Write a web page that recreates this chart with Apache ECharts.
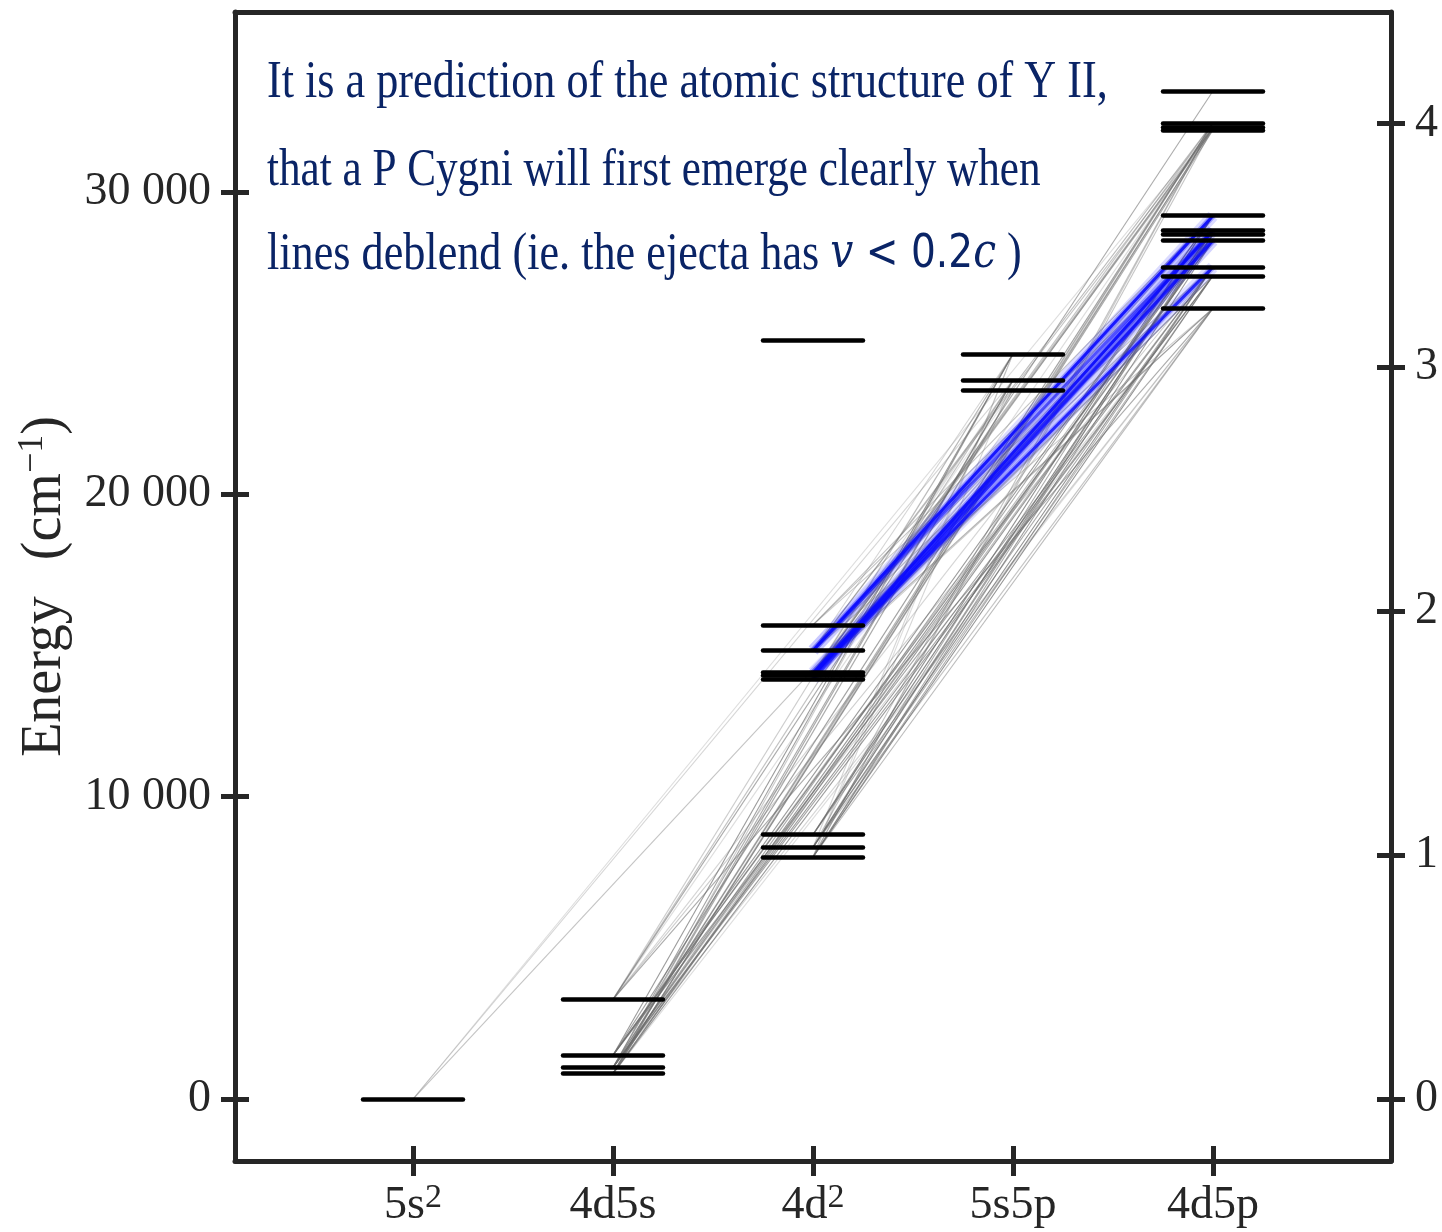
<!DOCTYPE html>
<html>
<head>
<meta charset="utf-8">
<title>Y II energy levels</title>
<script src="https://cdn.jsdelivr.net/npm/echarts@6/dist/echarts.min.js"></script>
<style>
  html, body { margin: 0; padding: 0; background: #ffffff; }
  #chart { width: 1442px; height: 1232px; }
</style>
</head>
<body>
<div id="chart"></div>
<script>
// Electron configurations of Y II along the x axis (superscripts kept apart)
const configBase = ['5s', '4d5s', '4d', '5s5p', '4d5p'];
const configSup  = ['2',  '',     '2',  '',     ''];

// Energy levels: configuration index and energy (cm^-1)
//   0      5s2  1S0
//   1-4    4d5s a3D1 a3D2 a3D3 a1D2
//   5-13   4d2  a3F2 a3F3 a3F4 a3P0 a3P1 b1D2 a3P2 a1G4 a1S0
//   14-16  5s5p z3P0 z3P1 z3P2
//   17-27  4d5p z1D2 z3F2 z3F3 z3D1 z3F4 z3D2 z3D3 z3P0 z3P1 z3P2 z1F3
const levelConfig = [0, 1, 1, 1, 1, 2, 2, 2, 2, 2, 2, 2, 2, 2, 3, 3, 3,
                     4, 4, 4, 4, 4, 4, 4, 4, 4, 4, 4];
const levelEnergy = [0, 840, 1045, 1450, 3296,
                     8003, 8328, 8743, 13883, 14018, 14098, 14833, 15683, 25080,
                     23445, 23776, 24647,
                     26147, 27227, 27516, 28395, 28595, 28730, 29213, 32048, 32124, 32283, 33336];

// Transitions [lower level, upper level, relative strength]
const grayTransitions = [
  [0, 15, 0.25], [0, 20, 0.35], [0, 25, 0.2],
  [1, 14, 0.5], [1, 15, 0.5], [1, 16, 0.3], [1, 17, 0.2], [1, 18, 0.6], [1, 20, 0.6],
  [1, 22, 0.5], [1, 24, 0.5], [1, 25, 0.45], [1, 26, 0.3],
  [2, 15, 0.5], [2, 16, 0.55], [2, 17, 0.25], [2, 18, 0.55], [2, 19, 0.6], [2, 20, 0.4],
  [2, 22, 0.6], [2, 23, 0.5], [2, 25, 0.5], [2, 26, 0.45],
  [3, 16, 0.6], [3, 18, 0.25], [3, 19, 0.55], [3, 21, 0.65], [3, 22, 0.4], [3, 23, 0.6], [3, 26, 0.55],
  [4, 15, 0.35], [4, 16, 0.3], [4, 17, 0.5], [4, 19, 0.3], [4, 22, 0.25], [4, 25, 0.2], [4, 27, 0.5],
  [5, 15, 0.25], [5, 16, 0.2], [5, 17, 0.4], [5, 18, 0.65], [5, 19, 0.5], [5, 20, 0.6],
  [5, 22, 0.5], [5, 25, 0.35], [5, 26, 0.3],
  [6, 16, 0.25], [6, 17, 0.35], [6, 18, 0.45], [6, 19, 0.65], [6, 21, 0.55], [6, 22, 0.55],
  [6, 23, 0.5], [6, 26, 0.35],
  [7, 19, 0.5], [7, 21, 0.7], [7, 23, 0.65],
  [8, 15, 0.2], [8, 25, 0.4],
  [9, 14, 0.15], [9, 16, 0.2], [9, 17, 0.3], [9, 18, 0.35], [9, 24, 0.4], [9, 25, 0.35], [9, 26, 0.35],
  [10, 15, 0.2], [10, 17, 0.45], [10, 18, 0.3], [10, 20, 0.25], [10, 22, 0.3], [10, 23, 0.3], [10, 25, 0.2],
  [11, 16, 0.25], [11, 17, 0.3], [11, 19, 0.35], [11, 20, 0.3], [11, 25, 0.35], [11, 26, 0.4],
  [12, 19, 0.3], [12, 21, 0.35], [12, 23, 0.35]
];

// Highlighted 4d2 a3P -> 4d5p transitions
const blueTransitions = [
  [11, 23, 1.0], [9, 22, 1.0], [8, 20, 0.7], [11, 22, 0.6], [9, 20, 0.6], [10, 19, 0.9]
];

// Axis ticks
const energyTicks = [0, 10000, 20000, 30000];
const eVTicks = [0, 1, 2, 3, 4];
const configTicks = [0, 1, 2, 3, 4];

const CM_PER_EV = 8065.54;
const yMin = -2050, yMax = 35950;
const xMin = -0.89, xMax = 4.89;
const HALF_BAR = 0.25;

const axisColor = '#262626';
const serif = 'Liberation Serif';
const navy = '#0a2466';

function groupThousands(v) {
  return String(v).replace(/\B(?=(\d{3})+(?!\d))/g, ' ');
}

function segment(lo, up) {
  return [[levelConfig[lo], levelEnergy[lo]], [levelConfig[up], levelEnergy[up]]];
}

const axisLineStyle = { color: axisColor, width: 5 };
const tickStyle = { color: axisColor, width: 5 };

const chart = echarts.init(document.getElementById('chart'), null, { renderer: 'canvas' });

const option = {
  animation: false,
  backgroundColor: '#ffffff',
  grid: { left: 235, right: 51, top: 12, bottom: 71, containLabel: false, outerBoundsMode: 'none' },
  xAxis: [
    {
      type: 'value', position: 'bottom', min: xMin, max: xMax,
      splitLine: { show: false },
      axisLine: { show: true, onZero: false, lineStyle: axisLineStyle },
      axisTick: { show: true, length: 15, lineStyle: tickStyle, customValues: configTicks },
      axisLabel: {
        customValues: configTicks, margin: 20,
        formatter: v => {
          const i = Math.round(v);
          return '{b|' + configBase[i] + '}' + (configSup[i] ? '{s|' + configSup[i] + '}' : '');
        },
        rich: {
          b: { fontFamily: serif, fontSize: 46, color: axisColor, lineHeight: 50 },
          s: { fontFamily: serif, fontSize: 34, color: axisColor, verticalAlign: 'top', lineHeight: 50 }
        }
      }
    },
    {
      type: 'value', position: 'bottom', min: xMin, max: xMax,
      splitLine: { show: false },
      axisLine: { show: false, onZero: false },
      axisTick: { show: true, inside: true, length: 15, lineStyle: tickStyle, customValues: configTicks },
      axisLabel: { show: false }
    },
    {
      type: 'value', position: 'top', min: xMin, max: xMax,
      splitLine: { show: false },
      axisLine: { show: true, onZero: false, lineStyle: axisLineStyle },
      axisTick: { show: false },
      axisLabel: { show: false }
    }
  ],
  yAxis: [
    {
      type: 'value', position: 'left', min: yMin, max: yMax,
      splitLine: { show: false },
      axisLine: { show: true, onZero: false, lineStyle: axisLineStyle },
      axisTick: { show: true, length: 14, lineStyle: tickStyle, customValues: energyTicks },
      axisLabel: {
        customValues: energyTicks, margin: 24,
        formatter: v => groupThousands(v),
        fontFamily: serif, fontSize: 46, color: axisColor
      },
      name: '{t|Energy}{g| }{t|(cm}{s|−1}{t|)}',
      nameLocation: 'middle', nameRotate: 90, nameGap: 160,
      nameTextStyle: {
        rich: {
          t: { fontFamily: serif, fontSize: 56, color: axisColor, lineHeight: 60 },
          g: { fontFamily: serif, fontSize: 56, width: 36 },
          s: { fontFamily: serif, fontSize: 36, color: axisColor, verticalAlign: 'top', lineHeight: 60 }
        }
      }
    },
    {
      type: 'value', position: 'left', min: yMin, max: yMax,
      splitLine: { show: false },
      axisLine: { show: false, onZero: false },
      axisTick: { show: true, inside: true, length: 14, lineStyle: tickStyle, customValues: energyTicks },
      axisLabel: { show: false }
    },
    {
      type: 'value', position: 'right', min: yMin / CM_PER_EV, max: yMax / CM_PER_EV,
      splitLine: { show: false },
      axisLine: { show: true, onZero: false, lineStyle: axisLineStyle },
      axisTick: { show: true, length: 14, lineStyle: tickStyle, customValues: eVTicks },
      axisLabel: {
        customValues: eVTicks, margin: 24,
        formatter: v => String(Math.round(v)),
        fontFamily: serif, fontSize: 46, color: axisColor
      }
    },
    {
      type: 'value', position: 'right', min: yMin / CM_PER_EV, max: yMax / CM_PER_EV,
      splitLine: { show: false },
      axisLine: { show: false, onZero: false },
      axisTick: { show: true, inside: true, length: 14, lineStyle: tickStyle, customValues: eVTicks },
      axisLabel: { show: false }
    }
  ],
  series: [
    {
      name: 'transitions', type: 'lines', coordinateSystem: 'cartesian2d',
      xAxisIndex: 0, yAxisIndex: 0, silent: true, z: 2,
      lineStyle: { color: '#6e6e6e', width: 1.1, curveness: 0 },
      data: grayTransitions.map(([lo, up, s]) => ({
        coords: segment(lo, up), lineStyle: { opacity: Math.min(1, 1.15 * s) }
      }))
    },
    {
      name: 'highlight halo', type: 'lines', coordinateSystem: 'cartesian2d',
      xAxisIndex: 0, yAxisIndex: 0, silent: true, z: 3,
      lineStyle: { color: '#0000ff', width: 12, curveness: 0 },
      data: blueTransitions.map(([lo, up, w]) => ({
        coords: segment(lo, up), lineStyle: { opacity: 0.14 * w }
      }))
    },
    {
      name: 'highlight glow', type: 'lines', coordinateSystem: 'cartesian2d',
      xAxisIndex: 0, yAxisIndex: 0, silent: true, z: 4,
      lineStyle: { color: '#0000ff', width: 6, curveness: 0 },
      data: blueTransitions.map(([lo, up, w]) => ({
        coords: segment(lo, up), lineStyle: { opacity: 0.3 * w }
      }))
    },
    {
      name: 'highlight', type: 'lines', coordinateSystem: 'cartesian2d',
      xAxisIndex: 0, yAxisIndex: 0, silent: true, z: 5,
      lineStyle: { color: '#0a0aff', width: 3, curveness: 0 },
      data: blueTransitions.map(([lo, up, w]) => ({
        coords: segment(lo, up), lineStyle: { opacity: 0.9 * w }
      }))
    },
    {
      name: 'levels', type: 'lines', coordinateSystem: 'cartesian2d',
      xAxisIndex: 0, yAxisIndex: 0, silent: true, z: 6,
      lineStyle: { color: '#000000', width: 4.5, cap: 'round', opacity: 1, curveness: 0 },
      data: levelEnergy.map((e, i) => ({
        coords: [[levelConfig[i] - HALF_BAR, e], [levelConfig[i] + HALF_BAR, e]]
      }))
    }
  ],
  graphic: [
    {
      type: 'text', x: 267, y: 83, scaleX: 0.85, z: 10,
      style: {
        text: 'It is a prediction of the atomic structure of Y II,',
        font: '52px "Liberation Serif"', fill: navy, verticalAlign: 'middle'
      }
    },
    {
      type: 'text', x: 267, y: 171, scaleX: 0.83, z: 10,
      style: {
        text: 'that a P Cygni will first emerge clearly when',
        font: '52px "Liberation Serif"', fill: navy, verticalAlign: 'middle'
      }
    },
    {
      type: 'text', x: 267, y: 255, scaleX: 0.85, z: 10,
      style: {
        text: '{t|lines deblend (ie. the ejecta has }{mi|v}{m| < 0.2}{mi|c}{t| )}',
        fill: navy, verticalAlign: 'middle',
        rich: {
          t: { fontFamily: serif, fontSize: 52, color: navy },
          m: { fontFamily: 'DejaVu Sans', fontSize: 46, color: navy },
          mi: { fontFamily: 'DejaVu Serif', fontStyle: 'italic', fontSize: 48, color: navy }
        }
      }
    }
  ]
};

chart.setOption(option);
</script>
</body>
</html>
